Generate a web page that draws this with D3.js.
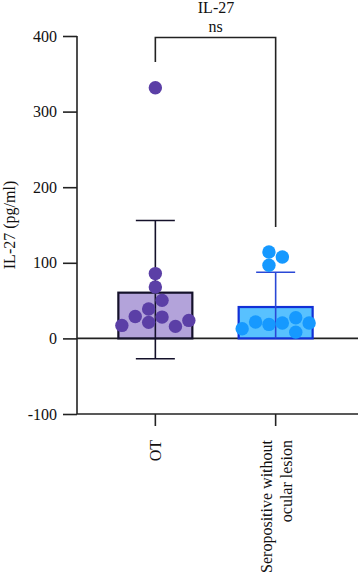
<!DOCTYPE html>
<html>
<head>
<meta charset="utf-8">
<script src="https://cdn.jsdelivr.net/npm/d3@7"></script>
<style>
  html, body { margin: 0; padding: 0; background: #fff; }
  svg { display: block; }
  text { font-family: "Liberation Serif", "DejaVu Serif", serif; fill: #111; }
</style>
</head>
<body>
<svg id="chart"></svg>
<script>
const categories = ["OT", "Seropositive without ocular lesion"];
const categoryLines = [["OT"], ["Seropositive without", "ocular lesion"]];
const barMeans = [60.5, 41.5];
const errUpper = [156, 87.5];
const errLower = [-27, 0];
const showLowerCap = [true, false];

// individual values per group
const otValues = [331.5, 85.7, 68, 50.3, 38.8, 29, 28.2, 17.2, 21.2, 15.9, 23.8];
const seroValues = [114.3, 107.7, 96.7, 12.8, 21.6, 18.5, 20.3, 27.4, 20.3, 8.3];
// swarm column of each dot, in dot diameters from the group centre
const otSlots = [0, 0, 0, 0.5, -0.5, -1.5, 0.5, -2.5, -0.5, 1.5, 2.5];
const seroSlots = [-0.5, 0.5, -0.5, -2.5, -1.5, -0.5, 0.5, 1.5, 2.5, 1.5];

const yTicks = [-100, 0, 100, 200, 300, 400];

const width = 358;
const height = 575;
const plotLeft = 77;
const plotRight = 358;

const svg = d3.select("#chart").attr("width", width).attr("height", height);

const y = d3.scaleLinear().domain([-100, 400]).range([414, 36]);
const x = d3.scaleBand()
  .domain(categories)
  .range([95.5, 335.5])
  .paddingInner(0.385)
  .paddingOuter(0.19);

const pointFill = ["#5b3fa6", "#1699ff"];
const barFill = ["#b3a3da", "#58c1ff"];
const barStroke = ["#14112a", "#1230d6"];
const errColor = ["#14112a", "#2a48d6"];
const dotR = 6.7;

// y axis
const yAxis = svg.append("g")
  .attr("transform", `translate(${plotLeft},0)`)
  .call(d3.axisLeft(y).tickValues(yTicks).tickSize(14).tickPadding(6).tickFormat(d => d < 0 ? "-" + Math.abs(d) : d));
yAxis.select(".domain").attr("stroke", "#222").attr("stroke-width", 1.6).attr("d", `M0,${y(400)}V${y(-100)}`);
yAxis.selectAll(".tick line").attr("stroke", "#222").attr("stroke-width", 1.6);
yAxis.selectAll(".tick text")
  .style("font-family", "'Liberation Serif', serif")
  .style("font-size", "16px")
  .attr("fill", "#111");

// bottom line and zero line
[-100, 0].forEach(v => {
  svg.append("line")
    .attr("x1", plotLeft).attr("x2", plotRight)
    .attr("y1", y(v)).attr("y2", y(v))
    .attr("stroke", "#222").attr("stroke-width", 1.6);
});

// x axis ticks + labels
const xAxis = svg.append("g")
  .attr("transform", `translate(0,${y(-100)})`)
  .call(d3.axisBottom(x).tickSize(12).tickFormat(""));
xAxis.select(".domain").remove();
xAxis.selectAll(".tick line").attr("stroke", "#222").attr("stroke-width", 1.6);

categories.forEach((c, i) => {
  const cx = x(c) + x.bandwidth() / 2;
  const lines = categoryLines[i];
  const t = svg.append("text")
    .attr("transform", `translate(${cx},440) rotate(-90)`)
    .attr("text-anchor", "end")
    .style("font-size", "16px");
  lines.forEach((ln, j) => {
    const off = (j - (lines.length - 1) / 2) * 20 + 6;
    t.append("tspan").attr("x", 0).attr("y", off).text(ln);
  });
});

// bars
svg.selectAll("rect.bar")
  .data(categories)
  .join("rect")
  .attr("class", "bar")
  .attr("x", d => x(d))
  .attr("width", x.bandwidth())
  .attr("y", (d, i) => y(barMeans[i]))
  .attr("height", (d, i) => y(0) - y(barMeans[i]))
  .attr("fill", (d, i) => barFill[i])
  .attr("stroke", (d, i) => barStroke[i])
  .attr("stroke-width", 2.2);

// error bars
const capW = 39;
categories.forEach((c, i) => {
  const cx = x(c) + x.bandwidth() / 2;
  const g = svg.append("g").attr("stroke", errColor[i]).attr("stroke-width", 1.6);
  g.append("line").attr("x1", cx).attr("x2", cx).attr("y1", y(errUpper[i])).attr("y2", y(errLower[i]));
  g.append("line").attr("x1", cx - capW / 2).attr("x2", cx + capW / 2)
    .attr("y1", y(errUpper[i])).attr("y2", y(errUpper[i]));
  if (showLowerCap[i]) {
    g.append("line").attr("x1", cx - capW / 2).attr("x2", cx + capW / 2)
      .attr("y1", y(errLower[i])).attr("y2", y(errLower[i]));
  }
});

// dots
const groups = [
  { values: otValues, slots: otSlots },
  { values: seroValues, slots: seroSlots },
];
groups.forEach((grp, i) => {
  const cx = x(categories[i]) + x.bandwidth() / 2;
  svg.append("g")
    .selectAll("circle")
    .data(grp.values)
    .join("circle")
    .attr("cx", (d, k) => cx + grp.slots[k] * dotR * 2)
    .attr("cy", d => y(d))
    .attr("r", dotR)
    .attr("fill", pointFill[i]);
});

// significance bracket
const x1 = x(categories[0]) + x.bandwidth() / 2;
const x2 = x(categories[1]) + x.bandwidth() / 2;
const yb = y(400) + 1.5;
svg.append("path")
  .attr("d", `M${x1},62 V${yb} H${x2} V227`)
  .attr("fill", "none")
  .attr("stroke", "#222")
  .attr("stroke-width", 1.6);
svg.append("text")
  .attr("x", (x1 + x2) / 2)
  .attr("y", 32)
  .attr("text-anchor", "middle")
  .style("font-size", "16px")
  .text("ns");

// title
svg.append("text")
  .attr("x", 216)
  .attr("y", 13)
  .attr("text-anchor", "middle")
  .style("font-size", "16px")
  .text("IL-27");

// y label
svg.append("text")
  .attr("transform", `translate(15,${(y(400) + y(-100)) / 2}) rotate(-90)`)
  .attr("text-anchor", "middle")
  .style("font-size", "16px")
  .text("IL-27 (pg/ml)");
</script>
</body>
</html>
